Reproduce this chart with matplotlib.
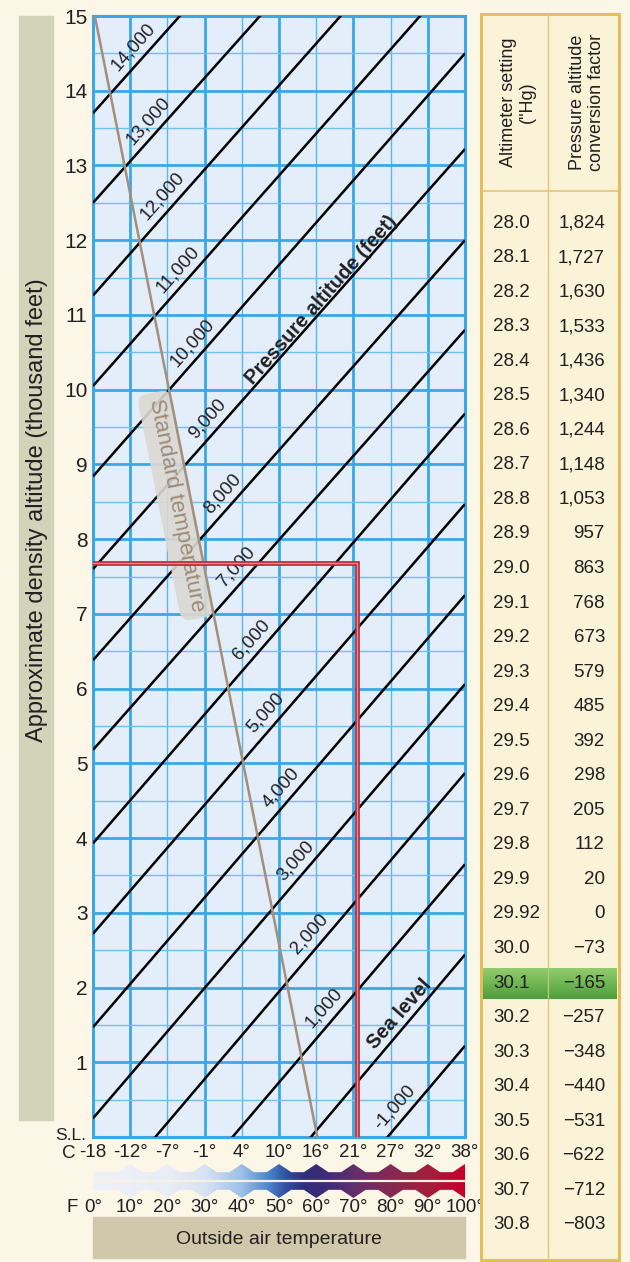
import numpy as np
import matplotlib.pyplot as plt
from matplotlib.colors import LinearSegmentedColormap
from matplotlib.patches import Rectangle, Polygon

plt.rcParams['font.family'] = ['Liberation Sans', 'DejaVu Sans']

# ---- data ----
temp_f = [0, 10, 20, 30, 40, 50, 60, 70, 80, 90, 100]
temp_c_labels = ['-18', '-12°', '-7°', '-1°', '4°', '10°', '16°', '21°', '27°', '32°', '38°']
temp_f_labels = ['0°', '10°', '20°', '30°', '40°', '50°', '60°', '70°', '80°', '90°', '100°']
da_ticks = list(range(1, 16))

# pressure altitude lines (thousand ft) and their density altitude at 0°F / 100°F
pressure_alt = [14, 13, 12, 11, 10, 9, 8, 7, 6, 5, 4, 3, 2, 1, 0, -1]
da_at_0f = [13.70, 12.50, 11.26, 10.05, 8.84, 7.60, 6.38, 5.18, 3.93, 2.72, 1.47, 0.25,
            -0.98, -2.19, -3.45, -4.64]
da_at_100f = [19.27, 18.07, 16.88, 15.68, 14.50, 13.22, 12.00, 10.80, 9.68, 8.47, 7.25,
              6.06, 4.87, 3.65, 2.44, 1.22]

# standard temperature line
std_da = [0, 15]
std_temp = [60.3, 0.5]

# worked example (red)
example_temp = 71
example_da = 7.68

alt_setting = ['28.0', '28.1', '28.2', '28.3', '28.4', '28.5', '28.6', '28.7', '28.8', '28.9',
               '29.0', '29.1', '29.2', '29.3', '29.4', '29.5', '29.6', '29.7', '29.8', '29.9',
               '29.92', '30.0', '30.1', '30.2', '30.3', '30.4', '30.5', '30.6', '30.7', '30.8']
conv_factor = [1824, 1727, 1630, 1533, 1436, 1340, 1244, 1148, 1053, 957,
               863, 768, 673, 579, 485, 392, 298, 205, 112, 20,
               0, -73, -165, -257, -348, -440, -531, -622, -712, -803]
highlight = '30.1'

# ---- layout ----
W, H = 630, 1262
txt = '#231f20'
blue = '#3aa8e6'
fig = plt.figure(figsize=(W / 100, H / 100), dpi=100, facecolor='#fcf6e7')


def px_rect(x0, y0, x1, y1):
    return [x0 / W, 1 - y1 / H, (x1 - x0) / W, (y1 - y0) / H]


# y label band
fig.patches.append(Rectangle((19 / W, 1 - 1120 / H), 34 / W, 1104 / H,
                             transform=fig.transFigure, color='#d3d3b9', zorder=0))
fig.text(37 / W, 1 - 510 / H, 'Approximate density altitude (thousand feet)',
         rotation=90, ha='center', va='center', fontsize=17, color=txt)

# x label box
fig.patches.append(Rectangle((93 / W, 1 - 1258 / H), 372 / W, 41 / H,
                             transform=fig.transFigure, color='#d1c8ac', zorder=0))
fig.text(279 / W, 1 - 1240 / H, 'Outside air temperature', ha='center', va='center',
         fontsize=14, color=txt)

# ---- main chart ----
ax = fig.add_axes(px_rect(93, 16, 465, 1137))
ax.set_facecolor('#e3eefa')
ax.set_xlim(0, 100)
ax.set_ylim(0, 15)

for f in temp_f:
    thick = f in (0, 10, 30, 50, 70, 90, 100)
    ax.axvline(f, color=blue if thick else '#5cb5ec', lw=2.0 if thick else 1.0, zorder=1)
for d in np.arange(0.5, 15, 0.5):
    thick = float(d).is_integer()
    ax.axhline(d, color=blue if thick else '#72c0ee', lw=2.0 if thick else 1.0, zorder=1)

for s in ax.spines.values():
    s.set_color(blue)
    s.set_linewidth(2.2)

ax.set_xticks([])
ax.set_yticks(da_ticks)
ax.set_yticklabels([str(t) for t in da_ticks], fontsize=15, color=txt)
ax.tick_params(axis='y', length=0, pad=4)

# pressure altitude lines
for a, r in zip(da_at_0f, da_at_100f):
    ax.plot([0, 100], [a, r], color='black', lw=1.8, zorder=3, solid_capstyle='butt')

# standard temperature line
ax.plot(std_temp, std_da, color='#a48f7a', lw=1.8, zorder=5)

fig.canvas.draw()


def disp_angle(x0, y0, x1, y1):
    p0 = ax.transData.transform((x0, y0))
    p1 = ax.transData.transform((x1, y1))
    return np.degrees(np.arctan2(p1[1] - p0[1], p1[0] - p0[0]))


ang = disp_angle(0, da_at_0f[6], 100, da_at_100f[6])
perp = np.radians(ang + 90)

# labels along the pressure lines, just right of the standard-temperature line
k = (std_temp[0] - std_temp[1]) / (std_da[1] - std_da[0])
for p, a, r in zip(pressure_alt, da_at_0f, da_at_100f):
    if p == 0:
        continue
    b = (r - a) / 100
    fx = (std_temp[0] - k * a) / (1 + k * b)
    fx += 20 if p < 0 else 9
    off = 10
    ax.annotate(f'{p * 1000:,}', (fx, a + b * fx),
                xytext=(off * np.cos(perp), off * np.sin(perp)), textcoords='offset points',
                rotation=ang, rotation_mode='anchor', ha='center', va='center',
                fontsize=13.5, color=txt, zorder=6)

ax.text(61.5, 11.2, 'Pressure altitude (feet)', rotation=ang, rotation_mode='anchor',
        ha='center', va='center', fontsize=14.5, fontweight='bold', color=txt, zorder=6)
ax.text(82.5, 1.65, 'Sea level', rotation=ang, rotation_mode='anchor',
        ha='center', va='center', fontsize=14.5, fontweight='bold', color=txt, zorder=6)

std_ang = disp_angle(std_temp[0], std_da[0], std_temp[1], std_da[1])
ax.text(22.3, 8.45, 'Standard temperature', rotation=std_ang - 180, rotation_mode='anchor',
        ha='center', va='center', fontsize=16, color='#9d8b79', zorder=4,
        bbox=dict(boxstyle='round,pad=0.3,rounding_size=0.45', fc='#dcd8d2', ec='none',
                  alpha=0.9))

# worked example
ex_x = [0, example_temp, example_temp]
ex_y = [example_da, example_da, 0]
ax.plot(ex_x, ex_y, color='#b52a35', lw=3.4, zorder=7, solid_joinstyle='miter')
ax.plot(ex_x, ex_y, color='#ec8a8e', lw=1.0, zorder=8, solid_joinstyle='miter')

# temperature scales under the chart
for f, c_lab, f_lab in zip(temp_f, temp_c_labels, temp_f_labels):
    ax.annotate(c_lab, (f, 0), xycoords=('data', 'axes fraction'), xytext=(0, -11.5),
                textcoords='offset points', ha='center', va='center', fontsize=13.5, color=txt,
                annotation_clip=False)
    ax.annotate(f_lab, (f, 0), xycoords=('data', 'axes fraction'), xytext=(0, -50.4),
                textcoords='offset points', ha='center', va='center', fontsize=13.5, color=txt,
                annotation_clip=False)
fig.text(69 / W, 1 - 1153 / H, 'C', ha='center', va='center', fontsize=13.5, color=txt)
fig.text(72 / W, 1 - 1207 / H, 'F', ha='center', va='center', fontsize=13.5, color=txt)
fig.text(86 / W, 1 - 1136 / H, 'S.L.', ha='right', va='center', fontsize=12.5, color=txt)

# colour strip with diamonds
sx = fig.add_axes(px_rect(93, 1164, 465, 1198))
sx.set_xlim(0, 100)
sx.set_ylim(0, 1)
sx.axis('off')
lo, hi, hw = 0.24, 0.76, 3.3
bottom = [(0, lo)]
for f in temp_f[1:-1]:
    bottom += [(f - hw, lo), (f, 0), (f + hw, lo)]
bottom += [(100 - hw, lo), (100, 0), (100, 1), (100 - hw, hi)]
top = []
for f in temp_f[-2:0:-1]:
    top += [(f + hw, hi), (f, 1), (f - hw, hi)]
top += [(0, hi)]
shape = Polygon(bottom + top, closed=True, fc='none', ec='none')
sx.add_patch(shape)
temp_cmap = LinearSegmentedColormap.from_list('oat', [
    (0.0, '#eef1f8'), (0.2, '#e9edf6'), (0.3, '#d8e3f3'), (0.4, '#9cc0e6'),
    (0.47, '#4d86cc'), (0.52, '#2f4f9e'), (0.57, '#302e7c'), (0.63, '#3f2c76'),
    (0.72, '#6a2f68'), (0.82, '#8a284e'), (0.91, '#a61d3a'), (1.0, '#c6002a')])
im = sx.imshow(np.linspace(0, 1, 512).reshape(1, -1), extent=(0, 100, 0, 1), aspect='auto',
               cmap=temp_cmap, interpolation='bilinear')
im.set_clip_path(shape)
sx.axhline(0.5, color='#f7f1e4', lw=1.6)

# ---- altimeter table ----
tx = fig.add_axes(px_rect(481, 14, 619, 1260))
tx.set_xlim(481, 619)
tx.set_ylim(1260, 14)
tx.axis('off')
gold = '#e2bf5c'
tx.add_patch(Rectangle((481, 14), 138, 1246, fc='#fbf3d8', ec=gold, lw=2.2, clip_on=False))
tx.plot([548, 548], [14, 1260], color='#e5c66e', lw=1.0)
tx.plot([481, 619], [190.7, 190.7], color='#e5c66e', lw=1.2)
tx.text(518, 102, 'Altimeter setting\n("Hg)', rotation=90, ha='center', va='center',
        fontsize=13, color=txt, linespacing=1.1, multialignment='center')
tx.text(587, 102, 'Pressure altitude\nconversion factor', rotation=90, ha='center',
        va='center', fontsize=13, color=txt, linespacing=1.1, multialignment='center')

green = LinearSegmentedColormap.from_list('g', ['#93cc6e', '#6fb652', '#4f9d3d'])
for i, (s, v) in enumerate(zip(alt_setting, conv_factor)):
    y = 223 + 34.55 * i
    if s == highlight:
        tx.imshow(np.linspace(0, 1, 64).reshape(-1, 1), extent=(483, 617, y + 16, y - 15),
                  aspect='auto', cmap=green, zorder=2)
        tx.plot([548, 548], [y - 15, y + 16], color='#b9c77a', lw=1.0, zorder=3)
    tx.text(493, y, s, ha='left', va='center', fontsize=13.5, color=txt, zorder=4)
    lab = f'{abs(v):,}' if v >= 0 else '\u2212' + f'{abs(v):,}'
    tx.text(605, y, lab, ha='right', va='center', fontsize=13.5, color=txt, zorder=4)
tx.set_xlim(481, 619)
tx.set_ylim(1260, 14)

plt.savefig('out.png', dpi=100, facecolor=fig.get_facecolor())
